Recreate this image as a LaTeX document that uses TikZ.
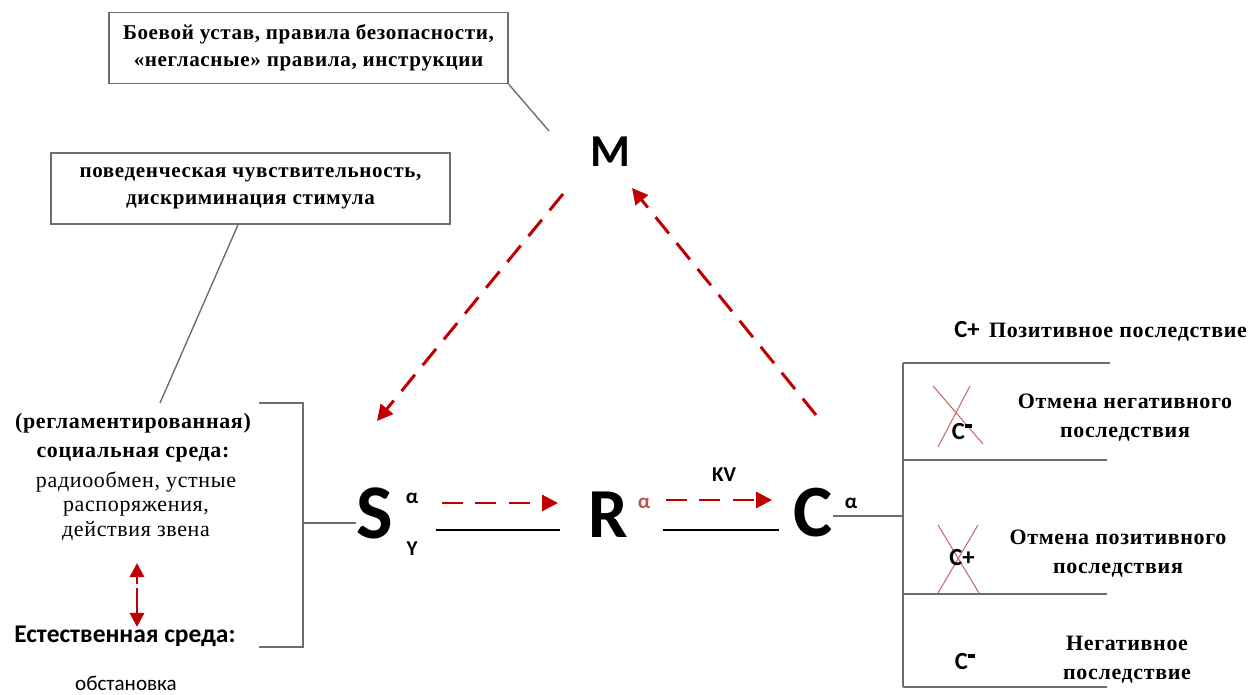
\documentclass[tikz,border=0pt]{standalone}
\usepackage{fontspec}
\setmainfont{Liberation Serif}
\newfontfamily\calibri{Carlito}
\usetikzlibrary{arrows.meta,positioning,calc}
\definecolor{arrred}{RGB}{192,0,0}
\definecolor{alphared}{RGB}{192,80,77}
\definecolor{crossred}{RGB}{200,105,105}
\definecolor{linegray}{RGB}{110,110,110}

\begin{document}
\begin{tikzpicture}[
  x=0.02cm, y=-0.02cm,
  note/.style={draw=linegray, line width=0.9pt, minimum width=7.98cm, minimum height=1.42cm,
    align=center, inner sep=2pt, font=\bfseries\fontsize{12}{15.5}\selectfont\addfontfeatures{LetterSpace=3}},
  letter/.style={inner sep=0pt, font=\calibri\bfseries\fontsize{#1}{#1}\selectfont},
  small/.style={inner sep=0pt, font=\calibri\bfseries\fontsize{12}{12}\selectfont},
  clabel/.style={inner sep=0pt, font=\calibri\bfseries\fontsize{14}{14}\selectfont},
  serifhead/.style={align=center, inner sep=0pt, font=\bfseries\fontsize{12.5}{16.5}\selectfont\addfontfeatures{LetterSpace=3}},
  seriftext/.style={align=center, inner sep=0pt, font=\fontsize{12.5}{14}\selectfont\addfontfeatures{LetterSpace=3}},
  redarr/.style={draw=arrred, line width=1.7pt, dash pattern=on 12pt off 7pt,
    -{Triangle[length=9pt,width=9pt]}},
  redtip/.style={draw=arrred, line width=1.7pt, -{Triangle[length=8pt,width=8pt]}},
  bar/.style={line width=1.7pt},
  thin/.style={draw=linegray, line width=0.8pt},
  cross/.style={draw=crossred, line width=0.6pt}
]
\useasboundingbox (0,0) rectangle (1250,695);

% notes on top
\node[note] (rules) at (308.5,48) {Боевой устав, правила безопасности,\\«негласные» правила, инструкции};
\node[note] (discr) at (250.5,188.5) {поведенческая чувствительность,\\дискриминация стимула};

% the triangle S - R - C - M
\node[letter=26] (M) at (610,152) {M};
\node[letter=44] (S) at (375,513) {S};
\node[letter=40] (R) at (608,515) {R};
\node[letter=42] (C) at (813,513) {C};

\node[small] (Sa) at (412,498) {α};
\node[small] (Sy) at (412,549) {Y};
\node[small, text=alphared] (Ra) at (644,503) {α};
\node[small] (Ca) at (851,503) {α};
\node[small] (kv) at (724,475) {KV};

\coordinate (linkM) at (549,131);
\coordinate (linkS) at (160,403);
\draw[thin] (rules.south east) -- (linkM);
\draw[thin] ($(discr.south)+(-12.5,0)$) -- (linkS);

\coordinate (ms1) at (563,194);
\coordinate (ms2) at (377,421);
\coordinate (cm1) at (816,415);
\coordinate (cm2) at (632,188);
\coordinate (sr1) at (442,503);
\coordinate (sr2) at (558,503);
\coordinate (rc1) at (666,500);
\coordinate (rc2) at (772,500);
\draw[redarr] (ms1) -- (ms2);
\draw[redarr] (cm1) -- (cm2);
\draw[redarr] (sr1) -- (sr2);
\draw[redarr] (rc1) -- (rc2);

\coordinate (sr3) at (436,530);
\coordinate (sr4) at (560,530);
\coordinate (rc3) at (663,530);
\coordinate (rc4) at (779,530);
\draw[bar] (sr3) -- (sr4);
\draw[bar] (rc3) -- (rc4);

% left: environment
\node[serifhead] (soc) at (133,438) {(регламентированная)\\социальная среда:};
\node[seriftext] (socd) at (136,506) {радиообмен, устные\\распоряжения,\\действия звена};
\node[inner sep=0pt, font=\calibri\bfseries\fontsize{14.5}{14.5}\selectfont] (nat) at (125,636) {Естественная среда:};
\node[inner sep=0pt, font=\calibri\fontsize{12}{12}\selectfont] (natd) at (126,683) {обстановка};

\coordinate (up1) at (137,584);
\coordinate (up2) at (137,563);
\coordinate (dn1) at (137,588);
\coordinate (dn2) at (137,627);
\draw[redtip] (up1) -- (up2);
\draw[redtip] (dn1) -- (dn2);

\draw[thin] (259,403) -- (303,403) -- (303,647) -- (259,647);
\draw[thin] (303,523) -- (S.west |- 0,523);

% right: consequences
\draw[thin] (C.east |- 0,516) -- (903,516);
\draw[thin] (903,363) -- (903,687);
\foreach \yy/\xe in {363/1110, 460/1107, 594/1107, 687/1107} {
  \draw[thin] (903,\yy) -- (\xe,\yy);
}

\node[clabel] (cp1) at (967,330) {C+};
\node[serifhead] (pos) at (1118,332) {Позитивное последствие};

\draw[cross] (933,386) -- (983,444);
\draw[cross] (970,386) -- (938,447);
\node[clabel] (cm1t) at (962,432) {C\rule[0.5em]{0.3em}{0.13em}};
\node[serifhead] (negc) at (1125,418) {Отмена негативного\\последствия};

\draw[cross] (938,525) -- (979,593);
\draw[cross] (978,525) -- (938,593);
\node[clabel] (cp2) at (962,558) {C+};
\node[serifhead] (posc) at (1118,554) {Отмена позитивного\\последствия};

\node[clabel] (cm2t) at (965,662) {C\rule[0.5em]{0.3em}{0.13em}};
\node[serifhead] (neg) at (1127,660) {Негативное\\последствие};
\end{tikzpicture}
\end{document}
